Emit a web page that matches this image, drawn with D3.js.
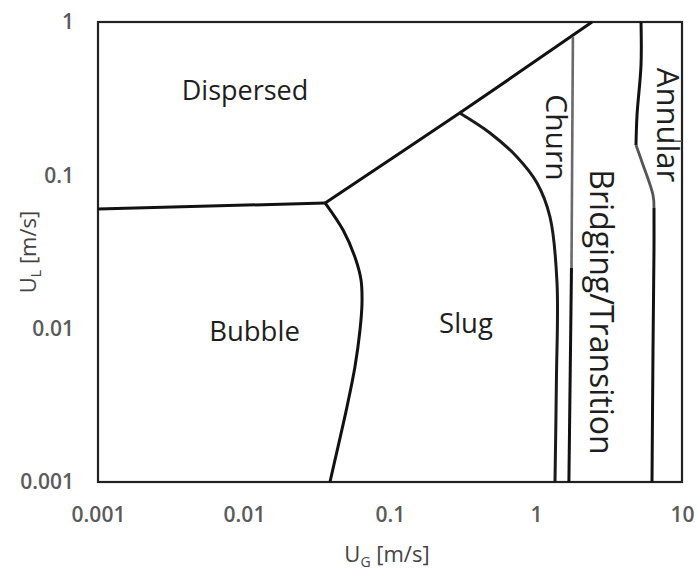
<!DOCTYPE html>
<html>
<head>
<meta charset="utf-8">
<script src="https://cdn.jsdelivr.net/npm/d3@7"></script>
<style>
  html, body { margin: 0; padding: 0; background: #fff; }
  svg { display: block; }
  text { font-family: "Open Sans", "Noto Sans", sans-serif; }
</style>
</head>
<body>
<svg id="chart" width="697" height="570"></svg>
<script>
// Flow-pattern map: superficial gas velocity U_G vs liquid velocity U_L (log-log)
const xDomain = [0.001, 10];
const yDomain = [0.001, 1];
const xTicks = [0.001, 0.01, 0.1, 1, 10];
const xTickLabels = ["0.001", "0.01", "0.1", "1", "10"];
const yTicks = [0.001, 0.01, 0.1, 1];
const yTickLabels = ["0.001", "0.01", "0.1", "1"];

// Transition boundaries, [U_G, U_L] in m/s
const dispersedBubble = [[0.001, 0.0603], [0.036, 0.066]];
const dispersedUpper = [[0.036, 0.066], [0.30, 0.255], [2.42, 1.0]];
const bubbleSlug = [[0.036, 0.066], [0.0477, 0.044], [0.0575, 0.0293], [0.0633, 0.0208],
  [0.0643, 0.0147], [0.0623, 0.0098], [0.0575, 0.00562], [0.0507, 0.00308],
  [0.0440, 0.00169], [0.0388, 0.001]];
const slugChurn = [[0.30, 0.255], [0.484, 0.189], [0.741, 0.1317], [1.016, 0.0891],
  [1.247, 0.0535], [1.393, 0.0199], [1.38, 0.00463], [1.349, 0.001]];
const churnBridgingUpper = [[1.79, 0.80], [1.75, 0.025]];
const churnBridgingLower = [[1.75, 0.025], [1.68, 0.001]];
const annularUpper = [[5.24, 1.0], [5.24, 0.524], [4.92, 0.2474], [4.84, 0.1577]];
const annularBend = [[4.84, 0.1577], [5.32, 0.1222], [6.33, 0.0744], [6.43, 0.0612]];
const annularLower = [[6.43, 0.0612], [6.43, 0.0336], [6.33, 0.00726], [6.23, 0.001]];
const frameMark = [[8.28, 0.167], [10, 0.167]];

// Region names: text, baseline anchor [U_G, U_L], rotation, size
const regionNames = ["Dispersed", "Bubble", "Slug", "Churn", "Bridging/Transition", "Annular"];
const regionAnchors = [[0.01016, 0.310], [0.0118, 0.00831], [0.3316, 0.00937], [1.17, 0.1765], [2.34, 0.01284], [6.74, 0.213]];
const regionRotations = [0, 0, 0, 90, 90, 90];
const regionSizes = [27, 27.5, 27.5, 30, 32, 31];

const svg = d3.select("#chart");
const margin = { left: 98, right: 15, top: 22, bottom: 88 };
const W = 697, H = 570;

const x = d3.scaleLog().domain(xDomain).range([margin.left, W - margin.right]);
const y = d3.scaleLog().domain(yDomain).range([H - margin.bottom, margin.top]);

// Axes: labels only, no tick marks
const xAxis = d3.axisBottom(x).tickValues(xTicks)
  .tickFormat((d, i) => xTickLabels[i]).tickSize(0).tickPadding(33);
const yAxis = d3.axisLeft(y).tickValues(yTicks)
  .tickFormat((d, i) => yTickLabels[i]).tickSize(0).tickPadding(24);

const gx = svg.append("g").attr("transform", `translate(0,${y(yDomain[0])})`).call(xAxis);
const gy = svg.append("g").attr("transform", `translate(${x(xDomain[0])},0)`).call(yAxis);
[gx, gy].forEach(g => {
  g.select(".domain").remove();
  g.selectAll("text")
    .attr("font-family", "'Open Sans', sans-serif")
    .attr("font-size", 21)
    .attr("font-weight", 600)
    .attr("fill", "#5a5a5a");
});
gx.selectAll("text").attr("dy", "0.35em");

// Plot frame
svg.append("rect")
  .attr("x", x(xDomain[0])).attr("y", y(yDomain[1]))
  .attr("width", x(xDomain[1]) - x(xDomain[0]))
  .attr("height", y(yDomain[0]) - y(yDomain[1]))
  .attr("fill", "none").attr("stroke", "#222").attr("stroke-width", 2.2);

const line = d3.line().x(d => x(d[0])).y(d => y(d[1])).curve(d3.curveCatmullRom.alpha(0.5));

const boundaries = [
  { pts: dispersedBubble, color: "#111", w: 3 },
  { pts: dispersedUpper, color: "#111", w: 3 },
  { pts: bubbleSlug, color: "#111", w: 3 },
  { pts: slugChurn, color: "#1a1a1a", w: 3 },
  { pts: churnBridgingUpper, color: "#6a6a6a", w: 2.6 },
  { pts: churnBridgingLower, color: "#111", w: 3 },
  { pts: annularUpper, color: "#111", w: 3 },
  { pts: annularBend, color: "#555", w: 2.8 },
  { pts: annularLower, color: "#111", w: 3 },
  { pts: frameMark, color: "#555", w: 1.5 }
];
svg.append("g").selectAll("path").data(boundaries).join("path")
  .attr("d", d => line(d.pts))
  .attr("fill", "none")
  .attr("stroke", d => d.color)
  .attr("stroke-width", d => d.w)
  .attr("stroke-linecap", "butt")
  .attr("stroke-linejoin", "round");

// Region names
svg.append("g").selectAll("text").data(regionNames).join("text")
  .attr("transform", (d, i) => `translate(${x(regionAnchors[i][0])},${y(regionAnchors[i][1])}) rotate(${regionRotations[i]})`)
  .attr("text-anchor", "middle")
  .attr("font-size", (d, i) => regionSizes[i])
  .attr("fill", "#1e1e1e")
  .text(d => d);

// Axis titles with subscripts
const xTitle = svg.append("text")
  .attr("x", 387).attr("y", 562)
  .attr("text-anchor", "middle").attr("font-size", 22).attr("fill", "#444");
xTitle.append("tspan").text("U");
xTitle.append("tspan").attr("font-size", 14).attr("dy", 5).text("G");
xTitle.append("tspan").attr("dy", -5).text(" [m/s]");

const yTitle = svg.append("text")
  .attr("transform", `translate(36,252) rotate(-90)`)
  .attr("text-anchor", "middle").attr("font-size", 22).attr("fill", "#444");
yTitle.append("tspan").text("U");
yTitle.append("tspan").attr("font-size", 14).attr("dy", 5).text("L");
yTitle.append("tspan").attr("dy", -5).text(" [m/s]");
</script>
</body>
</html>
